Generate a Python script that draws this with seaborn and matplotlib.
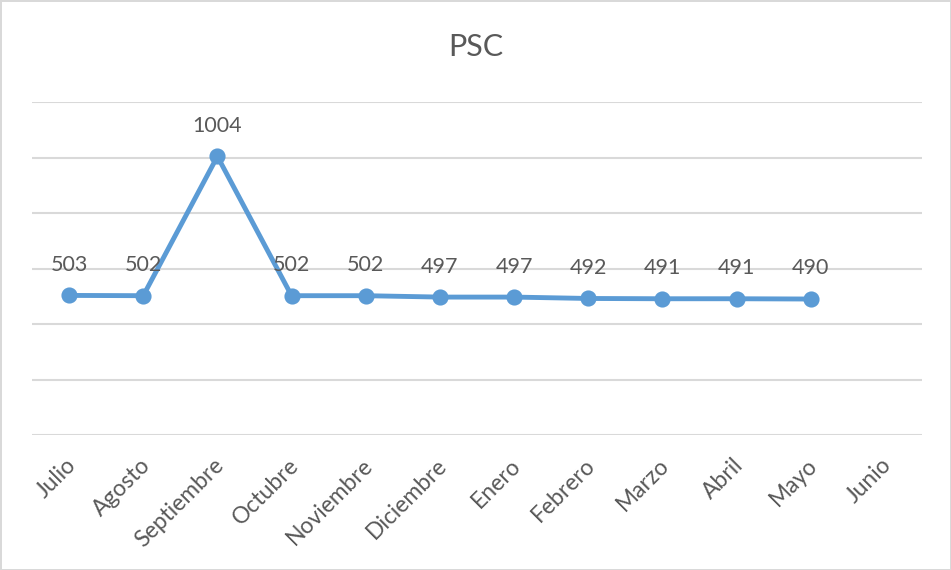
import numpy as np
import pandas as pd
import matplotlib
matplotlib.use("Agg")
import matplotlib.pyplot as plt
import matplotlib.transforms as mtransforms
import seaborn as sns

months = ["Julio", "Agosto", "Septiembre", "Octubre", "Noviembre", "Diciembre",
          "Enero", "Febrero", "Marzo", "Abril", "Mayo", "Junio"]
values = [503, 502, 1004, 502, 502, 497, 497, 492, 491, 491, 490, np.nan]
title = "PSC"

df = pd.DataFrame({"mes": months, "valor": values})

sns.set_theme(style="white")
plt.rcParams["font.family"] = ["Lato", "DejaVu Sans"]
text_color = "#595959"
line_color = "#5B9BD5"
grid_color = "#D9D9D9"

fig = plt.figure(figsize=(9.51, 5.70), dpi=100)
fig.patch.set_facecolor("white")
fig.patch.set_edgecolor(grid_color)
fig.patch.set_linewidth(2)
ax = fig.add_axes([32/951, 1 - 435/570, (922 - 32)/951, (435 - 102)/570])

sns.pointplot(data=df, x="mes", y="valor", order=months, errorbar=None,
              color=line_color, markers="o", linestyles="-",
              linewidth=3.5, markersize=9, ax=ax)

ax.set_ylim(0, 1200)
ax.set_yticks(np.arange(0, 1201, 200))
ax.yaxis.grid(True, color=grid_color, linewidth=1.5)
ax.set_axisbelow(True)
ax.tick_params(axis="y", left=False, labelleft=False)
ax.tick_params(axis="x", bottom=False, pad=8, colors=text_color, labelsize=16.5)
offset = mtransforms.ScaledTranslation(-4/100, 0, fig.dpi_scale_trans)
for lbl in ax.get_xticklabels():
    lbl.set_rotation(45)
    lbl.set_ha("right")
    lbl.set_rotation_mode("anchor")
    lbl.set_transform(lbl.get_transform() + offset)
for s in ax.spines.values():
    s.set_visible(False)
ax.set_xlabel("")
ax.set_ylabel("")

for i, v in enumerate(values):
    if not np.isnan(v):
        ax.annotate(f"{int(v)}", (i, v), xytext=(0, 22), textcoords="offset points",
                    ha="center", va="center", fontsize=15.5, color=text_color)

fig.text(0.5, 1 - 47/570, title, ha="center", va="center", fontsize=22, color=text_color)

fig.savefig("out.png", dpi=100, facecolor=fig.get_facecolor(), edgecolor=fig.get_edgecolor())
